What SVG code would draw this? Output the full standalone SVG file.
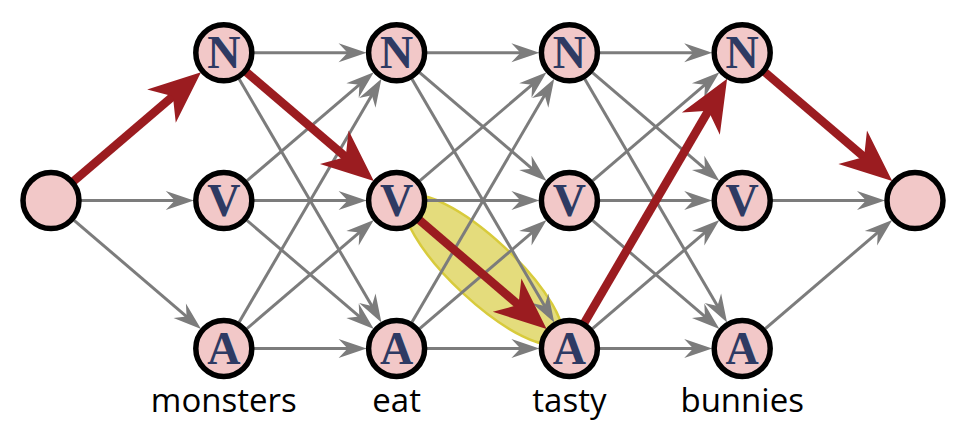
<svg xmlns="http://www.w3.org/2000/svg" width="962" height="441" viewBox="0 0 962 441">
<style>
.node circle{fill:#f2c8c8;stroke:#000;stroke-width:5.5}
.node text{font-family:"Liberation Serif","Times New Roman",serif;font-weight:bold;font-size:46px;fill:#2e3a63;text-anchor:middle}
.e{stroke:#7c7c7c;stroke-width:3;fill:none;marker-end:url(#ag)}
.r{stroke:#9b1c20;stroke-width:8.5;fill:none;marker-end:url(#ar)}
.lbl{font-family:"Open Sans","Noto Sans",sans-serif;font-size:33px;fill:#000;text-anchor:middle}
</style>
<defs>
<marker id="ag" markerUnits="userSpaceOnUse" markerWidth="1" markerHeight="1" refX="0" refY="0" orient="auto" overflow="visible">
<path d="M12,0 L-16,-9.5 L-7,0 L-16,9.5 Z" fill="#7c7c7c"/>
</marker>
<marker id="ar" markerUnits="userSpaceOnUse" markerWidth="1" markerHeight="1" refX="0" refY="0" orient="auto" overflow="visible">
<path d="M20,0 L-32,-22 L-17,0 L-32,22 Z" fill="#9b1c20"/>
</marker>
</defs>
<g id="highlight">
<ellipse cx="483.5" cy="270" rx="104" ry="31" transform="rotate(43 483.5 270)" fill="#e4dc7c" stroke="#d8cb3c" stroke-width="2.5"/>
</g>
<g id="connectors">
<path class="e" d="M51,200.6 L181.8,200.6"/>
<path class="e" d="M51,200.6 L191.9,321.1"/>
<path class="e" d="M223.8,52.8 L354.6,52.8"/>
<path class="e" d="M223.8,52.8 L375.4,312.1"/>
<path class="e" d="M223.8,200.6 L364.7,80.1"/>
<path class="e" d="M223.8,200.6 L354.6,200.6"/>
<path class="e" d="M223.8,200.6 L364.7,321.1"/>
<path class="e" d="M223.8,348.4 L375.4,89.1"/>
<path class="e" d="M223.8,348.4 L364.7,227.9"/>
<path class="e" d="M223.8,348.4 L354.6,348.4"/>
<path class="e" d="M396.6,52.8 L527.4,52.8"/>
<path class="e" d="M396.6,52.8 L537.5,173.3"/>
<path class="e" d="M396.6,52.8 L548.2,312.1"/>
<path class="e" d="M396.6,200.6 L537.5,80.1"/>
<path class="e" d="M396.6,200.6 L527.4,200.6"/>
<path class="e" d="M396.6,348.4 L548.2,89.1"/>
<path class="e" d="M396.6,348.4 L537.5,227.9"/>
<path class="e" d="M396.6,348.4 L527.4,348.4"/>
<path class="e" d="M569.4,52.8 L700.2,52.8"/>
<path class="e" d="M569.4,52.8 L710.3,173.3"/>
<path class="e" d="M569.4,52.8 L721,312.1"/>
<path class="e" d="M569.4,200.6 L710.3,80.1"/>
<path class="e" d="M569.4,200.6 L700.2,200.6"/>
<path class="e" d="M569.4,200.6 L710.3,321.1"/>
<path class="e" d="M569.4,348.4 L710.3,227.9"/>
<path class="e" d="M569.4,348.4 L700.2,348.4"/>
<path class="e" d="M742.2,200.6 L873,200.6"/>
<path class="e" d="M742.2,348.4 L883.1,227.9"/>
<path class="r" d="M51,200.6 L185.8,85.3"/>
<path class="r" d="M223.8,52.8 L358.6,168.1"/>
<path class="r" d="M396.6,200.6 L531.4,315.9"/>
<path class="r" d="M569.4,348.4 L717,96"/>
<path class="r" d="M742.2,52.8 L877,168.1"/>
</g>
<g id="start" class="node"><circle cx="51" cy="200.6" r="28"/></g>
<g id="n1" class="node"><circle cx="223.8" cy="52.8" r="28"/><text x="223.8" y="68">N</text></g>
<g id="v1" class="node"><circle cx="223.8" cy="200.6" r="28"/><text x="223.8" y="215.8">V</text></g>
<g id="a1" class="node"><circle cx="223.8" cy="348.4" r="28"/><text x="223.8" y="363.6">A</text></g>
<g id="n2" class="node"><circle cx="396.6" cy="52.8" r="28"/><text x="396.6" y="68">N</text></g>
<g id="v2" class="node"><circle cx="396.6" cy="200.6" r="28"/><text x="396.6" y="215.8">V</text></g>
<g id="a2" class="node"><circle cx="396.6" cy="348.4" r="28"/><text x="396.6" y="363.6">A</text></g>
<g id="n3" class="node"><circle cx="569.4" cy="52.8" r="28"/><text x="569.4" y="68">N</text></g>
<g id="v3" class="node"><circle cx="569.4" cy="200.6" r="28"/><text x="569.4" y="215.8">V</text></g>
<g id="a3" class="node"><circle cx="569.4" cy="348.4" r="28"/><text x="569.4" y="363.6">A</text></g>
<g id="n4" class="node"><circle cx="742.2" cy="52.8" r="28"/><text x="742.2" y="68">N</text></g>
<g id="v4" class="node"><circle cx="742.2" cy="200.6" r="28"/><text x="742.2" y="215.8">V</text></g>
<g id="a4" class="node"><circle cx="742.2" cy="348.4" r="28"/><text x="742.2" y="363.6">A</text></g>
<g id="end" class="node"><circle cx="915" cy="200.6" r="28"/></g>
<g id="labels">
<text class="lbl" x="223.8" y="412">monsters</text>
<text class="lbl" x="396.6" y="412">eat</text>
<text class="lbl" x="569.4" y="412">tasty</text>
<text class="lbl" x="742.2" y="412">bunnies</text>
</g>
</svg>
